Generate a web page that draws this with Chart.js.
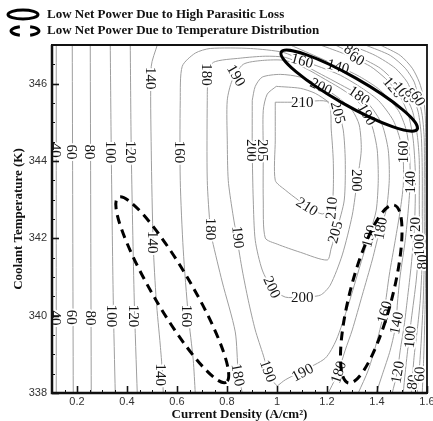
<!DOCTYPE html>
<html><head><meta charset="utf-8">
<script src="https://cdn.jsdelivr.net/npm/chart.js@4.4.1/dist/chart.umd.min.js"></script>
<style>html,body{margin:0;padding:0;background:#fff;}#wrap{width:433px;height:421px;}</style>
</head><body><div id="wrap"><canvas id="c" width="433" height="421"></canvas></div>
<script>
// ---- axes ----
const xTickValues = [0.2, 0.4, 0.6, 0.8, 1.0, 1.2, 1.4, 1.6];
const xTickLabels = ['0.2', '0.4', '0.6', '0.8', '1', '1.2', '1.4', '1.6'];
const yTickValues = [338, 340, 342, 344, 346];
const yTickLabels = ['338', '340', '342', '344', '346'];
const xRange = [0.1, 1.6];
const yRange = [338, 347];

// ---- contour lines of net power: [current density (A/cm2), coolant temperature (K)] ----
const c40L  = [[0.117,347],[0.117,338]];
const c60L  = [[0.181,347],[0.185,338]];
const c80L  = [[0.253,347],[0.257,338]];
const c100L = [[0.333,347],[0.337,344.28],[0.345,340.40],[0.353,338]];
const c120L = [[0.413,347],[0.417,344.28],[0.429,340.40],[0.441,338]];
const c140L = [[0.545,338],[0.541,338.59],[0.533,339.24],[0.517,340.40],[0.505,341.82],[0.497,344.28],[0.497,346.45],[0.521,347]];
const c140R = [[1.053,347],[1.173,346.66],[1.245,346.45],[1.329,346.19],[1.413,345.83],[1.485,345.31],[1.517,344.80],[1.529,344.28],[1.533,343.50],[1.525,342.73],[1.513,341.95],[1.493,341.05],[1.481,340.27],[1.477,339.81],[1.453,339.11],[1.421,338.47],[1.397,338]];
const c160  = [[0.673,338],[0.665,338.85],[0.645,340.02],[0.625,341.70],[0.613,343.50],[0.613,345.57],[0.621,346.45],[0.673,346.79],[0.733,346.91],[0.893,346.91],[1.025,346.81],[1.101,346.60],[1.177,346.42],[1.253,346.22],[1.329,345.93],[1.405,345.57],[1.465,345.05],[1.493,344.54],[1.505,344.02],[1.505,343.37],[1.493,342.73],[1.473,341.95],[1.449,341.05],[1.429,340.14],[1.401,339.37],[1.365,338.59],[1.325,338]];
const c180  = [[0.861,338],[0.845,338.54],[0.833,339.58],[0.781,340.87],[0.741,341.95],[0.733,342.26],[0.721,343.50],[0.721,345.57],[0.725,346.22],[0.745,346.55],[0.853,346.66],[0.953,346.71],[1.033,346.68],[1.101,346.50],[1.177,346.24],[1.253,345.98],[1.329,345.70],[1.381,345.36],[1.421,344.93],[1.445,344.28],[1.449,343.50],[1.437,342.73],[1.413,342.26],[1.381,341.44],[1.341,340.53],[1.301,339.63],[1.273,339.11],[1.245,338.54],[1.225,338.26],[1.205,338]];
const c190  = [[1.001,338.18],[0.973,338.39],[0.945,338.98],[0.913,339.63],[0.885,340.40],[0.861,341.18],[0.841,341.95],[0.821,342.73],[0.805,343.50],[0.801,344.54],[0.801,345.57],[0.821,346.09],[0.865,346.50],[0.941,346.60],[1.033,346.60],[1.113,346.40],[1.193,346.11],[1.273,345.80],[1.333,345.47],[1.361,345.21],[1.385,344.80],[1.401,344.28],[1.405,343.50],[1.397,342.73],[1.373,342.16],[1.333,341.31],[1.285,340.27],[1.237,339.37],[1.193,338.90],[1.101,338.57],[1.033,338.34],[1.001,338.18]];
const c200  = [[0.901,345.57],[0.901,344.28],[0.905,342.99],[0.913,341.95],[0.941,341.18],[0.981,340.71],[1.033,340.48],[1.093,340.48],[1.173,340.53],[1.213,340.79],[1.261,341.57],[1.301,342.60],[1.321,343.50],[1.337,344.28],[1.329,344.93],[1.301,345.31],[1.253,345.60],[1.177,345.93],[1.093,346.17],[1.013,346.24],[0.941,346.17],[0.913,345.93],[0.901,345.57]];
const c205  = [[0.997,345.93],[1.093,345.88],[1.153,345.75],[1.213,345.49],[1.245,345.26],[1.265,344.80],[1.273,344.02],[1.269,342.99],[1.241,342.26],[1.217,341.75],[1.201,341.44],[1.093,341.64],[1.001,341.85],[0.953,342.01],[0.945,342.99],[0.945,344.28],[0.945,345.31],[0.961,345.73],[0.997,345.93]];
const c210  = [[0.993,345.52],[1.093,345.52],[1.205,345.52],[1.217,344.80],[1.225,344.02],[1.225,343.25],[1.217,342.78],[1.181,342.63],[1.133,342.78],[1.085,342.99],[1.033,343.25],[0.993,343.50],[0.993,344.54],[0.993,345.52]];
const c120R = [[1.173,347],[1.273,346.76],[1.373,346.45],[1.433,346.14],[1.465,345.91],[1.501,345.57],[1.529,345.11],[1.545,344.54],[1.553,343.76],[1.553,342.99],[1.549,342.21],[1.537,341.31],[1.521,340.40],[1.509,339.76],[1.493,339.11],[1.481,338.54],[1.461,338]];
const c100R = [[1.233,347],[1.333,346.68],[1.413,346.40],[1.473,346.04],[1.505,345.78],[1.541,345.31],[1.561,344.67],[1.569,344.02],[1.569,342.99],[1.569,341.95],[1.557,340.92],[1.537,339.89],[1.525,339.24],[1.513,338.54],[1.505,338]];
const c80R  = [[1.293,347],[1.393,346.73],[1.473,346.40],[1.521,346.04],[1.541,345.73],[1.565,345.26],[1.577,344.67],[1.581,343.76],[1.581,342.21],[1.581,341.44],[1.573,340.40],[1.561,339.63],[1.549,338.98],[1.541,338.34],[1.537,338]];
const c60R  = [[1.353,347],[1.453,346.73],[1.513,346.40],[1.549,346.04],[1.565,345.65],[1.581,345.18],[1.589,344.54],[1.589,342.99],[1.589,341.44],[1.585,340.40],[1.577,339.37],[1.569,338.59],[1.561,338]];
const c40R  = [[1.413,347],[1.493,346.73],[1.541,346.40],[1.569,346.04],[1.585,345.67],[1.593,345.18],[1.595,344.28],[1.595,341.70],[1.593,340.40],[1.589,339.37],[1.585,338.59],[1.581,338]];

const contourLevels = [40,60,80,100,120,140,140,160,180,190,200,205,210,120,100,80,60,40];
const contourLines  = [c40L,c60L,c80L,c100L,c120L,c140L,c140R,c160,c180,c190,c200,c205,c210,c120R,c100R,c80R,c60R,c40R];

// ---- contour labels: [text, x, y, angle in degrees] ----
const contourLabels = [
 ['40',0.117,344.28,90],['40',0.117,339.94,90],
 ['60',0.181,344.23,90],['60',0.181,339.96,90],
 ['80',0.253,344.23,90],['80',0.257,339.94,90],
 ['100',0.337,344.23,90],['100',0.341,339.99,90],
 ['120',0.417,344.23,90],['120',0.429,339.99,90],
 ['140',0.497,346.14,90],['140',0.505,341.90,90],['140',0.537,338.47,90],
 ['160',0.613,344.23,90],['160',0.641,339.99,90],
 ['180',0.721,346.24,90],['180',0.737,342.24,90],['180',0.845,338.47,80],
 ['190',0.838,346.22,60],['190',0.845,342.03,85],['190',0.965,338.57,70],['190',1.101,338.54,-28],
 ['200',0.901,344.28,90],['200',0.981,340.74,65],['200',1.101,340.48,0],['200',1.321,343.50,90],['200',1.177,345.93,25],
 ['205',0.945,344.28,90],['205',1.245,345.26,75],['205',1.232,342.16,-75],
 ['210',1.101,345.52,0],['210',1.121,342.83,32],['210',1.217,342.78,-85],
 ['160',1.101,346.60,15],['140',1.245,346.45,15],['180',1.329,345.70,35],['190',1.361,345.21,60],
 ['80',1.300,346.85,30],['60',1.320,346.66,30],
 ['120',1.465,345.91,50],['100',1.505,345.78,50],['80',1.541,345.70,55],['60',1.565,345.62,60],
 ['190',1.368,342.06,-75],['180',1.413,342.26,-80],['160',1.505,344.23,-90],['140',1.533,343.45,-90],['120',1.551,342.26,-90],['100',1.569,341.82,-90],['80',1.581,341.39,-90],
 ['160',1.429,340.09,-75],['140',1.477,339.81,-78],['100',1.531,339.45,-85],['120',1.481,338.54,-80],['80',1.541,338.28,-85],['60',1.569,338.49,-88],
 ['180',1.245,338.54,-72]
];

// ---- highlighted regions (ellipses): centre, end of major axis, minor/major ratio ----
const regionParasitic = {center:[1.289,345.82], tip:[1.561,344.82], ratio:0.18, dashed:false};
const regionTempLeft  = {center:[0.581,340.67], tip:[0.797,338.28], ratio:0.18, dashed:true};
const regionTempRight = {center:[1.377,340.56], tip:[1.285,338.26], ratio:0.23, dashed:true};
const legendTexts = ['Low Net Power Due to High Parasitic Loss', 'Low Net Power Due to Temperature Distribution'];

const serif = '"Liberation Serif", "Times New Roman", serif';
const sans = '"Liberation Sans", Arial, sans-serif';

const overlay = {
  id: 'overlay',
  afterDatasetsDraw(chart) {
    const {ctx, chartArea: a, scales: {x, y}} = chart;
    ctx.save();
    ctx.beginPath(); ctx.rect(a.left, a.top, a.right - a.left, a.bottom - a.top); ctx.clip();
    ctx.font = '15px ' + serif;
    ctx.textAlign = 'center'; ctx.textBaseline = 'middle'; ctx.lineJoin = 'round';
    for (const [t, vx, vy, ang] of contourLabels) {
      ctx.save();
      ctx.translate(x.getPixelForValue(vx), y.getPixelForValue(vy));
      ctx.rotate(ang * Math.PI / 180);
      ctx.strokeStyle = '#fff'; ctx.lineWidth = 4; ctx.strokeText(t, 0, 1);
      ctx.fillStyle = '#151515'; ctx.fillText(t, 0, 1);
      ctx.restore();
    }
    for (const r of [regionParasitic, regionTempLeft, regionTempRight]) {
      const cx = x.getPixelForValue(r.center[0]), cy = y.getPixelForValue(r.center[1]);
      const tx = x.getPixelForValue(r.tip[0]), ty = y.getPixelForValue(r.tip[1]);
      const ra = Math.hypot(tx - cx, ty - cy), th = Math.atan2(ty - cy, tx - cx);
      ctx.beginPath(); ctx.ellipse(cx, cy, ra, ra * r.ratio, th, 0, Math.PI * 2);
      ctx.setLineDash(r.dashed ? [9, 6] : []);
      ctx.lineWidth = 3; ctx.strokeStyle = '#000'; ctx.stroke();
    }
    ctx.restore();
  },
  afterDraw(chart) {
    const {ctx, chartArea: a, scales: {x, y}} = chart;
    ctx.save();
    // frame
    ctx.strokeStyle = '#111';
    ctx.lineWidth = 1.8;
    ctx.beginPath(); ctx.moveTo(a.left, a.top); ctx.lineTo(a.right, a.top); ctx.lineTo(a.right, a.bottom); ctx.stroke();
    ctx.lineWidth = 2.5;
    ctx.beginPath(); ctx.moveTo(a.left, a.top); ctx.lineTo(a.left, a.bottom); ctx.lineTo(a.right, a.bottom); ctx.stroke();
    // inward ticks
    for (let i = 0; i <= 30; i++) {
      const v = xRange[0] + i * 0.05;
      const major = xTickValues.some(t => Math.abs(t - v) < 1e-6);
      const px = Math.round(x.getPixelForValue(v)) + 0.5;
      ctx.lineWidth = major ? 1.6 : 1;
      ctx.beginPath(); ctx.moveTo(px, a.bottom); ctx.lineTo(px, a.bottom - (major ? 7 : 3)); ctx.stroke();
    }
    for (let i = 0; i <= 18; i++) {
      const v = yRange[0] + i * 0.5;
      const major = yTickValues.includes(v);
      const py = Math.round(y.getPixelForValue(v)) + 0.5;
      ctx.lineWidth = major ? 1.6 : 1;
      ctx.beginPath(); ctx.moveTo(a.left, py); ctx.lineTo(a.left + (major ? 7 : 3), py); ctx.stroke();
    }
    // legend
    ctx.strokeStyle = '#000'; ctx.lineWidth = 3;
    ctx.beginPath(); ctx.ellipse(23, 14.5, 15, 4.5, 0, 0, Math.PI * 2); ctx.stroke();
    ctx.beginPath(); ctx.ellipse(25, 31, 14, 4.5, 0, 0.62 * Math.PI, 1.38 * Math.PI); ctx.stroke();
    ctx.beginPath(); ctx.ellipse(25, 31, 14, 4.5, 0, -0.38 * Math.PI, 0.38 * Math.PI); ctx.stroke();
    ctx.font = 'bold 13px ' + serif;
    ctx.fillStyle = '#111'; ctx.textAlign = 'left'; ctx.textBaseline = 'middle';
    ctx.fillText(legendTexts[0], 47, 15);
    ctx.fillText(legendTexts[1], 47, 31);
    ctx.restore();
  }
};

new Chart(document.getElementById('c'), {
  type: 'scatter',
  data: {
    datasets: contourLines.map((pts, i) => ({
      label: String(contourLevels[i]),
      data: pts.map(p => ({x: p[0], y: p[1]})),
      showLine: true, borderColor: '#9e9e9e', borderWidth: 1,
      pointRadius: 0, pointHoverRadius: 0, tension: 0.25, fill: false
    }))
  },
  options: {
    responsive: false, animation: false, devicePixelRatio: 1,
    layout: {padding: {top: 45, right: 6, left: 0, bottom: 0}},
    plugins: {legend: {display: false}, tooltip: {enabled: false}},
    events: [],
    scales: {
      x: {
        type: 'linear', min: xRange[0], max: xRange[1],
        afterBuildTicks: s => { s.ticks = xTickValues.map(v => ({value: v})); },
        afterFit: s => { s.height = 28; s.paddingLeft = 0; s.paddingRight = 0; },
        grid: {display: false, drawTicks: false},
        border: {display: true, color: '#111', width: 2},
        ticks: {padding: 2, color: '#333', autoSkip: false, maxRotation: 0,
                font: {family: sans, size: 11}, callback: (v, i) => xTickLabels[i]},
        title: {display: true, text: 'Current Density (A/cm²)', color: '#111',
                font: {family: serif, size: 13, weight: 'bold', lineHeight: 1}, padding: {top: 0, bottom: 0}}
      },
      y: {
        type: 'linear', min: yRange[0], max: yRange[1],
        afterBuildTicks: s => { s.ticks = yTickValues.map(v => ({value: v})); },
        afterFit: s => { s.width = 52; s.paddingTop = 0; s.paddingBottom = 0; },
        grid: {display: false, drawTicks: false},
        border: {display: true, color: '#111', width: 2},
        ticks: {padding: 5, color: '#333', autoSkip: false,
                font: {family: sans, size: 11}, callback: (v, i) => yTickLabels[i]},
        title: {display: true, text: 'Coolant Temperature (K)', color: '#111',
                font: {family: serif, size: 13, weight: 'bold', lineHeight: 1}, padding: {top: 12, bottom: 0}}
      }
    }
  },
  plugins: [overlay]
});
</script>
</body></html>
